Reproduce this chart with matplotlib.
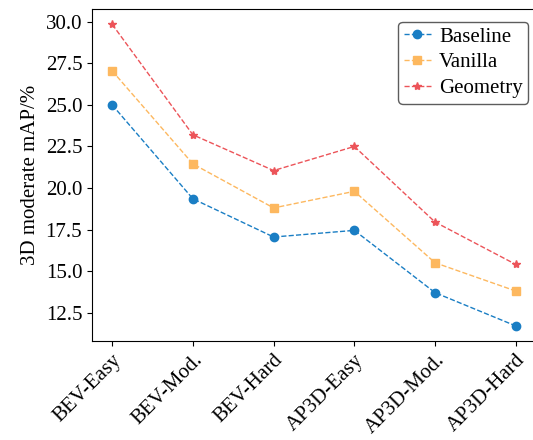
import numpy as np
import matplotlib
matplotlib.use("Agg")
import matplotlib.pyplot as plt

# data
categories = ["BEV-Easy", "BEV-Mod.", "BEV-Hard", "AP3D-Easy", "AP3D-Mod.", "AP3D-Hard"]
baseline = [25.0, 19.35, 17.05, 17.45, 13.7, 11.7]
vanilla = [27.05, 21.45, 18.8, 19.8, 15.5, 13.8]
geometry = [29.85, 23.2, 21.05, 22.5, 17.95, 15.4]

plt.rcParams['font.family'] = ['Liberation Serif', 'DejaVu Serif']

fig = plt.figure(figsize=(5.33, 4.4), dpi=100)
ax = fig.add_axes([0.1726, 0.225, 0.833, 0.754])

x = np.arange(len(categories))
ax.plot(x, baseline, linestyle='--', marker='o', color='#1a7ec4', lw=1, markersize=6, label='Baseline')
ax.plot(x, vanilla, linestyle='--', marker='s', color='#fdb85f', lw=1, markersize=6, label='Vanilla')
ax.plot(x, geometry, linestyle='--', marker='*', color='#ec5459', lw=1, markersize=6, label='Geometry')

ax.set_xticks(x)
ax.set_xticklabels(categories, rotation=45, ha='right', rotation_mode='anchor', fontsize=15)
ax.tick_params(axis='y', labelsize=15)
ax.set_yticks([12.5, 15.0, 17.5, 20.0, 22.5, 25.0, 27.5, 30.0])
ax.set_ylabel('3D moderate mAP/%', fontsize=15)

ax.legend(loc='upper right', fontsize=15, edgecolor='#333333', fancybox=True,
          bbox_to_anchor=(0.982, 0.962), borderaxespad=0, handlelength=1.3,
          borderpad=0.25, labelspacing=0.3, handletextpad=0.4)

fig.savefig('out.png', dpi=100)
